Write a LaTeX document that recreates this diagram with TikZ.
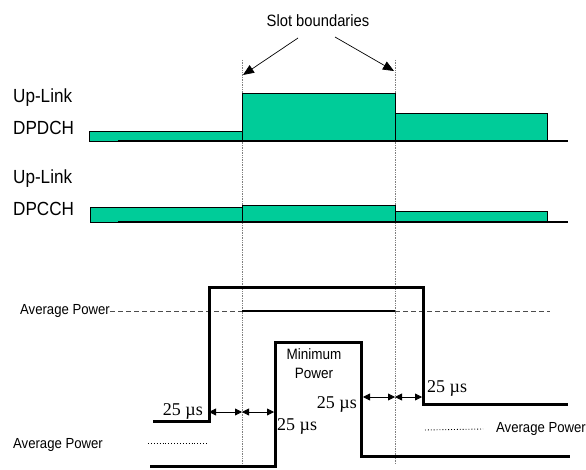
\documentclass[tikz,border=0pt]{standalone}
\usepackage{fontspec}
\setmainfont[FakeStretch=0.9]{Liberation Sans}
\newfontfamily\serif{Liberation Serif}
\usetikzlibrary{arrows.meta}
\definecolor{chan}{RGB}{0,204,153}

\begin{document}
\begin{tikzpicture}[x=1pt,y=-1pt,
	bar/.style={draw=black, fill=chan, line width=0.9pt},
	base/.style={line width=1.6pt},
	pwr/.style={line width=3pt, line join=miter},
	bound/.style={gray, densely dotted, line width=0.7pt},
	avgline/.style={gray!60!black, dash pattern=on 5pt off 3pt, line width=0.6pt},
	chname/.style={font=\fontsize{19}{19}\selectfont, inner sep=0pt, anchor=west},
	small/.style={font=\fontsize{14.6}{19}\selectfont, inner sep=0pt},
	mus/.style={font=\serif\fontsize{18}{18}\selectfont, inner sep=0pt},
	gap/.style={{Triangle[length=7pt,width=7pt]}-{Triangle[length=7pt,width=7pt]}, line width=0.8pt},
	pointer/.style={-{Triangle[length=11pt,width=9pt]}, line width=0.7pt}]

	\useasboundingbox (0,0) rectangle (586,470);

	% slot boundaries
	\coordinate (b1) at (242,60);
	\coordinate (b1e) at (242,467);
	\coordinate (b2) at (395,60);
	\coordinate (b2e) at (395,463);
	\draw[bound] (b1) -- (b1e);
	\draw[bound] (b2) -- (b2e);

	\node[small, font=\fontsize{16.4}{17}\selectfont] (slot) at (318,21) {Slot boundaries};
	\coordinate (s1) at (298,38);
	\coordinate (s2) at (335,37);
	\coordinate (t1) at (243,75);
	\coordinate (t2) at (394,71);
	\draw[pointer] (s1) -- (t1);
	\draw[pointer] (s2) -- (t2);

	% DPDCH
	\node[chname] (ul1) at (13,98) {Up-Link};
	\node[chname] (dpdch) at (13,128) {DPDCH};
	\draw[bar] (89,131) rectangle (242,141);
	\draw[bar] (242,93) rectangle (395,141);
	\draw[bar] (395,113) rectangle (547,141);
	\draw[base] (118,141) -- (568,141);

	% DPCCH
	\node[chname] (ul2) at (13,179) {Up-Link};
	\node[chname] (dpcch) at (13,209) {DPCCH};
	\draw[bar] (90,207) rectangle (242,222);
	\draw[bar] (242,205) rectangle (395,222);
	\draw[bar] (395,211) rectangle (547,222);
	\draw[base] (118,222) -- (568,222);

	% power levels
	\node[small, anchor=west] (avg1) at (20,311) {Average Power};
	\coordinate (m1) at (242,311);
	\coordinate (m2) at (395,311);
	\coordinate (m3) at (550,311);
	\draw[avgline] (avg1.east) -- (m1);
	\draw[line width=1.2pt] (m1) -- (m2);
	\draw[avgline] (m2) -- (m3);

	\draw[pwr] (153,421) -- (209,421) -- (209,287) -- (423,287) -- (423,404) -- (568,404);
	\draw[pwr] (150,466) -- (275,466) -- (275,342) -- (361,342) -- (361,456) -- (570,456);

	\node[small, font=\fontsize{15}{19}\selectfont, align=center] (minp) at (314,364) {Minimum\\Power};

	% 25 us gaps
	\node[mus, anchor=east] (d1) at (203,411) {25 µs};
	\coordinate (g1) at (209,412);
	\coordinate (g2) at (242,412);
	\coordinate (g3) at (274,412);
	\draw[gap] (g1) -- (g2);
	\draw[gap] (g2) -- (g3);
	\node[mus, anchor=west] (d2) at (277,426) {25 µs};

	\node[mus, anchor=east] (d3) at (357,404) {25 µs};
	\coordinate (g4) at (363,397);
	\coordinate (g5) at (395,397);
	\coordinate (g6) at (422,397);
	\draw[gap] (g4) -- (g5);
	\draw[gap] (g5) -- (g6);
	\node[mus, anchor=west] (d4) at (427,388) {25 µs};

	% average power, lower
	\node[small, anchor=west] (avg2) at (13,445) {Average Power};
	\coordinate (p1) at (148,443);
	\coordinate (p2) at (207,443);
	\draw[dotted, line width=0.9pt] (p1) -- (p2);
	\node[small, anchor=west] (avg3) at (496,429) {Average Power};
	\coordinate (p3) at (425,430);
	\draw[dotted, line width=0.9pt] (p3) -- (avg3.west -| 483,0);

\end{tikzpicture}
\end{document}
